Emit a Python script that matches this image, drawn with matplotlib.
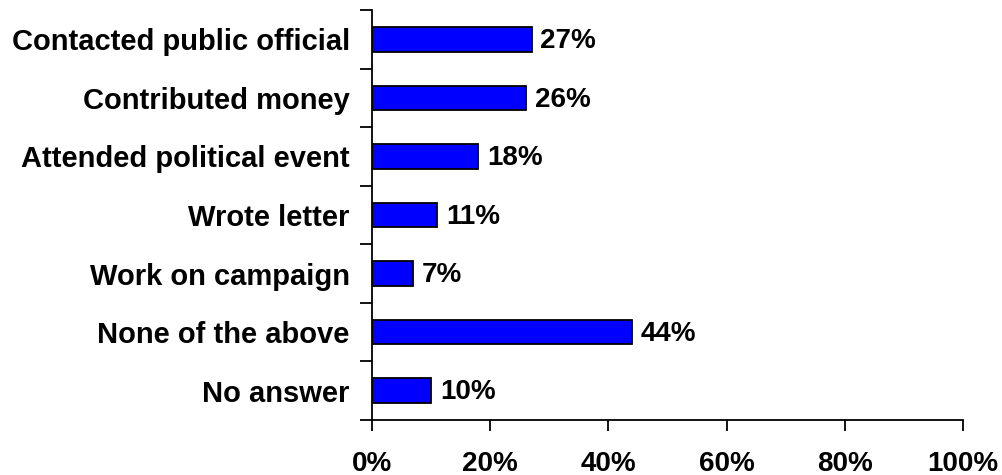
import matplotlib
matplotlib.use("Agg")
import matplotlib.pyplot as plt
from matplotlib.ticker import MultipleLocator, FuncFormatter

categories = ["Contacted public official", "Contributed money", "Attended political event",
              "Wrote letter", "Work on campaign", "None of the above", "No answer"]
values = [27, 26, 18, 11, 7, 44, 10]
x_ticks = [0, 20, 40, 60, 80, 100]

plt.rcParams['font.family'] = ['Liberation Sans', 'DejaVu Sans']
plt.rcParams['font.weight'] = 'bold'

fig = plt.figure(figsize=(10.03, 4.75), dpi=100)
ax = fig.add_axes([372 / 1003, 55 / 475, (963 - 372) / 1003, (420 - 10) / 475])

pos = list(range(len(categories)))[::-1]
ax.barh(pos, values, height=0.42, color="#0000FF", edgecolor="black", linewidth=1.3)

for p, v in zip(pos, values):
    ax.text(v + 1.5, p - 0.03, f"{v}%", va="center", ha="left", fontsize=20, fontweight="bold")

ax.set_xlim(0, 100)
ax.set_ylim(-0.5, len(categories) - 0.5)
ax.set_xticks(x_ticks)
ax.xaxis.set_major_formatter(FuncFormatter(lambda x, _: f"{int(x)}%"))
ax.set_yticks(pos)
ax.set_yticklabels(categories)
ax.yaxis.set_minor_locator(MultipleLocator(1, offset=0.5))

ax.tick_params(axis="y", which="major", length=0, pad=16, labelsize=21)
ax.tick_params(axis="y", which="minor", length=9, width=1.3, direction="out")
ax.tick_params(axis="x", which="major", length=8, width=1.3, direction="out", pad=14, labelsize=20)

for s in ["top", "right"]:
    ax.spines[s].set_visible(False)
for s in ["left", "bottom"]:
    ax.spines[s].set_linewidth(1.3)

for lab in ax.get_xticklabels() + ax.get_yticklabels():
    lab.set_fontweight("bold")

fig.savefig("out.png", dpi=100)
